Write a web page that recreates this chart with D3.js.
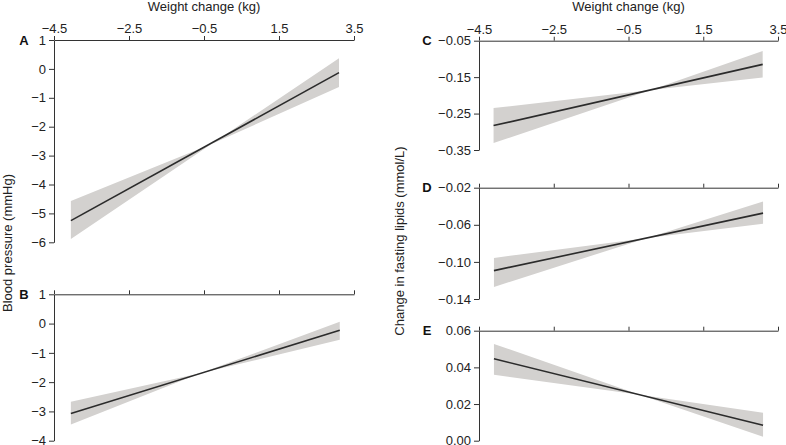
<!DOCTYPE html>
<html>
<head>
<meta charset="utf-8">
<script src="https://cdn.jsdelivr.net/npm/d3@7"></script>
<style>
  body { margin: 0; background: #fff; }
  svg { display: block; font-family: "Liberation Sans", Arial, sans-serif; }
  .axis path, .axis line { stroke: #333; stroke-width: 1; }
  .axis text { fill: #222; font-size: 13px; font-family: "Liberation Sans", Arial, sans-serif; }
</style>
</head>
<body>
<svg id="chart" width="786" height="445"></svg>
<script>
// ---- Data ----
const xTicks = [-4.5, -2.5, -0.5, 1.5, 3.5];
const xDomain = [-4.5, 3.5];

// Each panel: x positions [start, pinch, end] of the band, line endpoints, band edges
const bandXA = [-4.05, -0.3, 3.1];
const lineA = [-5.25, -2.6, -0.13];
const upperA = [-4.57, -2.6, 0.37];
const lowerA = [-5.89, -2.6, -0.63];
const yTicksA = [-6, -5, -4, -3, -2, -1, 0, 1];

const bandXB = [-4.05, -0.6, 3.12];
const lineB = [-3.07, -1.70, -0.23];
const upperB = [-2.67, -1.70, 0.06];
const lowerB = [-3.45, -1.70, -0.55];
const yTicksB = [-4, -3, -2, -1, 0, 1];

const bandXC = [-4.11, 0.1, 3.09];
const lineC = [-0.283, -0.185, -0.115];
const upperC = [-0.235, -0.185, -0.078];
const lowerC = [-0.331, -0.185, -0.151];
const yTicksC = [-0.35, -0.25, -0.15, -0.05];

const bandXD = [-4.1, 0.0, 3.1];
const lineD = [-0.1094, -0.0741, -0.0474];
const upperD = [-0.0957, -0.0741, -0.035];
const lowerD = [-0.127, -0.0741, -0.059];
const yTicksD = [-0.14, -0.10, -0.06, -0.02];

const bandXE = [-4.1, -0.2, 3.1];
const lineE = [0.0447, 0.0250, 0.0084];
const upperE = [0.0528, 0.0250, 0.0153];
const lowerE = [0.036, 0.0250, 0.0022];
const yTicksE = [0.00, 0.02, 0.04, 0.06];

// ---- Layout ----
const svg = d3.select("#chart");
const minus = s => s.replace(/^-/, "\u2013");

const panels = [
  {id: "A", bx: bandXA, line: lineA, up: upperA, lo: lowerA, ticks: yTicksA, fmt: d3.format("d"),
   x0: 54, x1: 354, yTop: 40, yBot: 242.3, top: true, letterX: 24},
  {id: "B", bx: bandXB, line: lineB, up: upperB, lo: lowerB, ticks: yTicksB, fmt: d3.format("d"),
   x0: 54, x1: 354, yTop: 294.3, yBot: 440.7, top: false, letterX: 24},
  {id: "C", bx: bandXC, line: lineC, up: upperC, lo: lowerC, ticks: yTicksC, fmt: d3.format(".2f"),
   x0: 479, x1: 778, yTop: 40.7, yBot: 150, top: true, letterX: 427},
  {id: "D", bx: bandXD, line: lineD, up: upperD, lo: lowerD, ticks: yTicksD, fmt: d3.format(".2f"),
   x0: 479, x1: 778, yTop: 187.7, yBot: 299, top: false, letterX: 427},
  {id: "E", bx: bandXE, line: lineE, up: upperE, lo: lowerE, ticks: yTicksE, fmt: d3.format(".2f"),
   x0: 479, x1: 778, yTop: 330.7, yBot: 440.7, top: false, letterX: 427}
];

panels.forEach(p => {
  const x = d3.scaleLinear().domain(xDomain).range([p.x0, p.x1]);
  const y = d3.scaleLinear().domain(d3.extent(p.ticks)).range([p.yBot, p.yTop]);
  const g = svg.append("g");

  const pts = p.bx.map((d, i) => ({x: d, up: p.up[i], lo: p.lo[i], v: p.line[i]}));
  g.append("path")
    .datum(pts)
    .attr("fill", "#d3d1cf")
    .attr("stroke", "none")
    .attr("d", d3.area().x(d => x(d.x)).y0(d => y(d.lo)).y1(d => y(d.up)));

  g.append("path")
    .datum([pts[0], pts[pts.length - 1]])
    .attr("fill", "none")
    .attr("stroke", "#2b2b2b")
    .attr("stroke-width", 1.6)
    .attr("d", d3.line().x(d => x(d.x)).y(d => y(d.v)));

  const xa = g.append("g").attr("class", "axis")
    .attr("transform", `translate(0,${p.yTop})`)
    .call(d3.axisTop(x).tickValues(xTicks).tickSize(4).tickSizeOuter(0).tickPadding(3)
      .tickFormat(p.top ? (d => minus(d3.format(".1f")(d))) : () => ""));

  const ya = g.append("g").attr("class", "axis")
    .attr("transform", `translate(${p.x0},0)`)
    .call(d3.axisLeft(y).tickValues(p.ticks).tickSize(5).tickSizeOuter(0).tickPadding(3)
      .tickFormat(d => minus(p.fmt(d))));

  g.append("text")
    .attr("x", p.letterX).attr("y", p.yTop + 4.5)
    .attr("text-anchor", "middle")
    .attr("font-size", 13).attr("font-weight", "bold").attr("fill", "#111")
    .text(p.id);

  if (p.top) {
    g.append("text")
      .attr("x", (p.x0 + p.x1) / 2).attr("y", 11)
      .attr("text-anchor", "middle").attr("font-size", 13).attr("fill", "#222")
      .text("Weight change (kg)");
  }
});

svg.append("text")
  .attr("transform", "translate(12,243) rotate(-90)")
  .attr("text-anchor", "middle").attr("font-size", 13).attr("fill", "#222")
  .text("Blood pressure (mmHg)");

svg.append("text")
  .attr("transform", "translate(404,241) rotate(-90)")
  .attr("text-anchor", "middle").attr("font-size", 13).attr("fill", "#222")
  .text("Change in fasting lipids (mmol/L)");
</script>
</body>
</html>
